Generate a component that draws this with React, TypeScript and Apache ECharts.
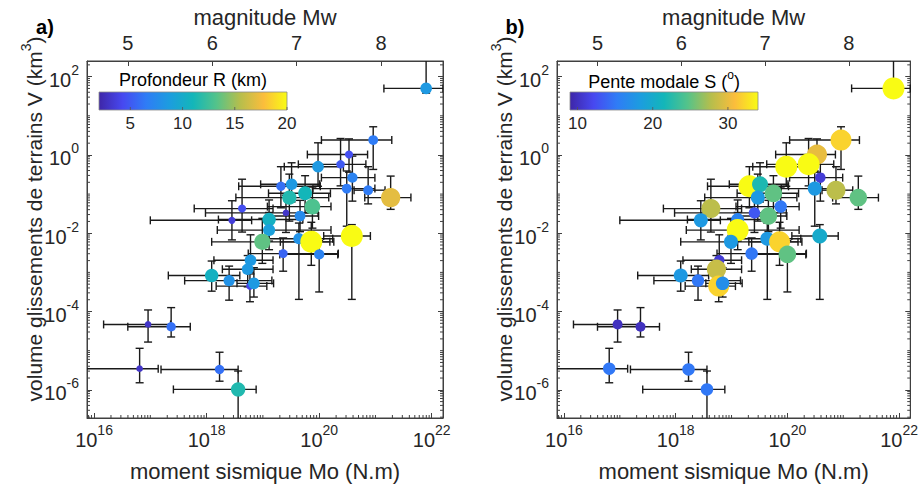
import React, { useEffect, useRef } from 'react';
import * as echarts from 'echarts';

// log10 of seismic moment Mo (N.m)
const logMo = [20.96, 20.53, 20.38, 19.98, 20.59, 20.49, 20.87, 21.27, 19.32, 19.51, 19.75, 19.47, 19.88, 19.41, 19.66, 18.63, 18.45, 19.11, 19.11, 18.99, 19.36, 19.64, 19.86, 20.0, 20.58, 18.78, 18.73, 18.77, 18.84, 18.09, 18.4, 16.96, 17.37, 16.81, 18.23, 18.56, 21.9];
// log10 of landslide volume V (km3)
const logV = [0.38, 0.01, -0.24, -0.3, -0.58, -0.86, -0.9, -1.09, -0.8, -0.75, -0.98, -1.09, -1.32, -1.48, -1.56, -1.37, -1.67, -1.65, -1.92, -2.22, -2.52, -2.14, -2.22, -2.54, -2.07, -2.69, -2.92, -3.35, -3.28, -3.08, -3.21, -4.33, -4.39, -5.46, -5.48, -5.99, 1.7];
// error bars (in decades)
const moErrLow = [0.92, 0.74, 0.75, 0.6, 0.55, 0.6, 0.25, 0.46, 0.75, 0.55, 0.65, 0.95, 0.8, 1.43, 0.55, 0.85, 1.45, 0.9, 0.92, 0.9, 0.62, 0.7, 0.55, 0.7, 0.5, 0.65, 0.45, 0.6, 0.3, 0.77, 0.79, 0.79, 0.77, 1.2, 1.04, 1.15, 0.75];
const moErrHigh = [0.33, 0.33, 0.45, 0.45, 0.4, 0.5, 0.3, 0.36, 0.7, 0.5, 0.45, 0.7, 0.33, 0.57, 0.33, 0.55, 0.35, 0.6, 1.1, 1.2, 0.98, 0.6, 0.4, 0.33, 0.33, 0.4, 0.45, 0.3, 0.35, 0.5, 0.76, 0.4, 0.34, 0.33, 0.33, 0.32, 0.3];
const vErrLow = [0.75, 0.45, 0.55, 0.5, 0.6, 0.96, 0.35, 0.3, 0.55, 0.45, 0.5, 0.6, 0.55, 0.5, 0.4, 0.6, 0.5, 0.55, 0.5, 0.55, 0.45, 1.55, 0.6, 0.96, 1.62, 0.35, 0.45, 0.4, 0.35, 0.4, 0.5, 0.45, 0.26, 0.36, 0.3, 0.9, 0.12];
const vErrHigh = [0.34, 0.4, 0.66, 0.61, 0.55, 0.45, 0.6, 0.55, 0.5, 0.55, 0.45, 0.6, 0.5, 0.45, 0.4, 0.75, 0.5, 0.5, 0.45, 0.6, 0.4, 0.4, 0.5, 0.35, 0.29, 0.65, 0.35, 0.35, 0.4, 0.37, 0.37, 0.37, 0.49, 0.52, 0.44, 0.47, 0.72];
// colour variables
const depthR = [6.5, 4.5, 5, 8.5, 7, 6.5, 6.5, 17, 6, 8.5, 11, 11.5, 13, 3, 7.5, 4.5, 3.5, 10.5, 9, 13.5, 5.5, 8, 20, 7, 20, 8.5, 8.5, 4, 8.5, 10.5, 8, 3, 6, 3, 6, 11.5, 8.5];
const slopeS = [32, 30, 34, 34, 11, 18, 28, 25, 34, 22, 25, 18, 15, 13, 25, 28, 18, 16, 34, 18, 15, 18, 32, 25, 20, 11, 28.5, 32, 17, 18, 15, 10, 10, 15, 15, 15, 34];

const xTicks = [16, 18, 20, 22];
const yTicks = [-6, -4, -2, 0, 2];
const mwTicks = [5, 6, 7, 8];
const rTicks = [5, 10, 15, 20];
const sTicks = [10, 20, 30];

const X_MIN = 15.875, X_MAX = 22.2, Y_MIN = -6.72, Y_MAX = 2.4;
const MW_MIN = (X_MIN - 9.1) / 1.5, MW_MAX = (X_MAX - 9.1) / 1.5;
const R_MIN = 2, R_MAX = 20, S_MIN = 9, S_MAX = 34;

const PARULA = ['#3e26a8', '#4748f0', '#2f7cf6', '#1c9ddf', '#13b6b9', '#54c38a', '#b6be4c', '#fbbd3c', '#f9fb14'];
const FONT = 'Liberation Sans, Arial, sans-serif';
const TXT = '#262626';
const AX = '#404040';

const GRIDS = [
  { left: 87, top: 61, width: 356, height: 357 },
  { left: 557, top: 61, width: 356, height: 357 },
];

const powRich = {
  b: { fontSize: 20, fontFamily: FONT, color: TXT, lineHeight: 27, verticalAlign: 'bottom' },
  s: { fontSize: 14, fontFamily: FONT, color: TXT, lineHeight: 13, verticalAlign: 'top' },
};

const lineStyle = { color: AX, width: 1 };
const tickStyle = { color: AX, width: 1 };

function xAxesFor(g: number) {
  return [
    {
      gridIndex: g, type: 'value', position: 'bottom', min: X_MIN, max: X_MAX,
      axisLine: { show: true, onZero: false, lineStyle }, splitLine: { show: false },
      axisTick: { inside: true, length: 5, lineStyle: tickStyle, customValues: xTicks },
      axisLabel: {
        margin: 5, rich: powRich, customValues: xTicks,
        formatter: (v: number) => `{b|10}{s|${Math.round(v)}}`,
      },
      name: 'moment sismique Mo (N.m)', nameLocation: 'middle', nameGap: 42,
      nameTextStyle: { fontSize: 22, fontFamily: FONT, color: TXT },
    },
    {
      gridIndex: g, type: 'value', position: 'top', min: MW_MIN, max: MW_MAX,
      axisLine: { show: true, onZero: false, lineStyle }, splitLine: { show: false },
      axisTick: { inside: true, length: 5, lineStyle: tickStyle, customValues: mwTicks },
      axisLabel: {
        margin: 8, fontSize: 20, fontFamily: FONT, color: TXT, customValues: mwTicks,
        formatter: (v: number) => String(Math.round(v)),
      },
      name: 'magnitude Mw', nameLocation: 'middle', nameGap: 33,
      nameTextStyle: { fontSize: 22, fontFamily: FONT, color: TXT },
    },
  ];
}

function yAxesFor(g: number) {
  return [
    {
      gridIndex: g, type: 'value', position: 'left', min: Y_MIN, max: Y_MAX,
      axisLine: { show: true, onZero: false, lineStyle }, splitLine: { show: false },
      axisTick: { inside: true, length: 5, lineStyle: tickStyle, customValues: yTicks },
      axisLabel: {
        margin: 8, rich: powRich, customValues: yTicks,
        formatter: (v: number) => `{b|10}{s|${Math.round(v)}}`,
      },
    },
    {
      gridIndex: g, type: 'value', position: 'right', min: Y_MIN, max: Y_MAX,
      axisLine: { show: true, onZero: false, lineStyle }, splitLine: { show: false },
      axisTick: { inside: true, length: 5, lineStyle: tickStyle, customValues: yTicks },
      axisLabel: { show: false, customValues: yTicks },
    },
  ];
}

const errData = logMo.map((m, i) => [m, logV[i], moErrLow[i], moErrHigh[i], vErrLow[i], vErrHigh[i]]);

function errorBarSeries(g: number) {
  return {
    type: 'custom', xAxisIndex: g * 2, yAxisIndex: g * 2, clip: true, silent: true, z: 2,
    encode: { x: 0, y: 1 },
    data: errData,
    renderItem: (_p: any, api: any) => {
      const x = api.value(0), y = api.value(1);
      const pL = api.coord([x - api.value(2), y]);
      const pR = api.coord([x + api.value(3), y]);
      const pB = api.coord([x, y - api.value(4)]);
      const pT = api.coord([x, y + api.value(5)]);
      const c = 4;
      const style = { stroke: '#1a1a1a', lineWidth: 1.4, fill: null };
      const ln = (x1: number, y1: number, x2: number, y2: number) => ({ type: 'line', shape: { x1, y1, x2, y2 }, style });
      return {
        type: 'group',
        children: [
          ln(pL[0], pL[1], pR[0], pR[1]),
          ln(pL[0], pL[1] - c, pL[0], pL[1] + c),
          ln(pR[0], pR[1] - c, pR[0], pR[1] + c),
          ln(pB[0], pB[1], pT[0], pT[1]),
          ln(pB[0] - c, pB[1], pB[0] + c, pB[1]),
          ln(pT[0] - c, pT[1], pT[0] + c, pT[1]),
        ],
      };
    },
  };
}

function minorTickSeries(g: number) {
  return {
    type: 'custom', xAxisIndex: g * 2, yAxisIndex: g * 2, silent: true, z: 1,
    data: [[X_MIN, Y_MIN]],
    renderItem: (_p: any, api: any) => {
      const children: any[] = [];
      const style = { stroke: AX, lineWidth: 1, fill: null };
      const bottom = api.coord([X_MIN, Y_MIN])[1];
      const left = api.coord([X_MIN, Y_MIN])[0];
      const right = api.coord([X_MAX, Y_MIN])[0];
      for (let n = 15; n <= 22; n++) {
        for (let k = 1; k <= 9; k++) {
          if (k === 1 && n % 2 === 0) continue;
          const v = n + Math.log10(k);
          if (v <= X_MIN || v >= X_MAX) continue;
          const px = api.coord([v, Y_MIN])[0];
          children.push({ type: 'line', shape: { x1: px, y1: bottom, x2: px, y2: bottom - 3 }, style });
        }
      }
      for (let n = -7; n <= 2; n++) {
        for (let k = 1; k <= 9; k++) {
          if (k === 1 && n % 2 === 0) continue;
          const v = n + Math.log10(k);
          if (v <= Y_MIN || v >= Y_MAX) continue;
          const py = api.coord([X_MIN, v])[1];
          children.push({ type: 'line', shape: { x1: left, y1: py, x2: left + 3, y2: py }, style });
          children.push({ type: 'line', shape: { x1: right, y1: py, x2: right - 3, y2: py }, style });
        }
      }
      return { type: 'group', children };
    },
  };
}

function scatterSeries(g: number, colorVals: number[], sizeFn: (v: number) => number) {
  return {
    type: 'scatter', xAxisIndex: g * 2, yAxisIndex: g * 2, z: 3,
    data: logMo.map((m, i) => [m, logV[i], colorVals[i]]),
    symbolSize: (v: number[]) => sizeFn(v[2]),
    itemStyle: { opacity: 1 },
  };
}

function colorbar(left: number, top: number, width: number, min: number, max: number, ticks: number[], title: string, rich?: any) {
  const els: any[] = [];
  els.push({
    type: 'rect', shape: { x: left, y: top, width, height: 18 },
    style: {
      fill: new echarts.graphic.LinearGradient(0, 0, 1, 0, PARULA.map((c, i) => ({ offset: i / (PARULA.length - 1), color: c }))),
      stroke: '#8a8a8a', lineWidth: 0.8,
    },
  });
  ticks.forEach((t) => {
    const x = left + ((t - min) / (max - min)) * width;
    els.push({ type: 'line', shape: { x1: x, y1: top + 18, x2: x, y2: top + 15 }, style: { stroke: '#555', lineWidth: 0.8 } });
    els.push({
      type: 'text', x, y: top + 31,
      style: { text: String(t), align: 'center', verticalAlign: 'middle', fontSize: 17, fontFamily: FONT, fill: TXT },
    });
  });
  els.push({
    type: 'text', x: left + width / 2, y: top - 12,
    style: { text: title, rich, align: 'center', verticalAlign: 'middle', fontSize: 18, fontFamily: FONT, fill: '#000' },
  });
  return els;
}

const yLabelRich = {
  n: { fontSize: 21, fontFamily: FONT, fill: TXT, lineHeight: 26, verticalAlign: 'bottom' },
  s: { fontSize: 14, fontFamily: FONT, fill: TXT, lineHeight: 13, verticalAlign: 'top' },
};

function yLabel(x: number, y: number) {
  return {
    type: 'text', x, y, rotation: Math.PI / 2,
    style: {
      text: '{n|volume glissements de terrains V (km}{s|3}{n|)}', rich: yLabelRich,
      align: 'center', verticalAlign: 'middle', fontFamily: FONT, fill: TXT,
    },
  };
}

export default function App() {
  const ref = useRef<HTMLDivElement>(null);
  useEffect(() => {
    const chart = echarts.init(ref.current!, null, { renderer: 'svg' });
    const option: any = {
      animation: false,
      backgroundColor: '#ffffff',
      grid: GRIDS.map((g) => ({ ...g, show: true, borderColor: AX, borderWidth: 1, backgroundColor: 'transparent' })),
      xAxis: [...xAxesFor(0), ...xAxesFor(1)],
      yAxis: [...yAxesFor(0), ...yAxesFor(1)],
      visualMap: [
        { show: false, type: 'continuous', seriesIndex: 2, dimension: 2, min: R_MIN, max: R_MAX, inRange: { color: PARULA } },
        { show: false, type: 'continuous', seriesIndex: 5, dimension: 2, min: S_MIN, max: S_MAX, inRange: { color: PARULA } },
      ],
      series: [
        minorTickSeries(0),
        errorBarSeries(0),
        scatterSeries(0, depthR, (r) => 4 + 0.9 * r),
        minorTickSeries(1),
        errorBarSeries(1),
        scatterSeries(1, slopeS, (s) => 5 + 0.5 * s),
      ],
      graphic: [
        { type: 'text', x: 45, y: 27, style: { text: 'a)', align: 'center', verticalAlign: 'middle', fontSize: 20, fontWeight: 'bold', fontFamily: FONT, fill: '#000' } },
        { type: 'text', x: 515, y: 27, style: { text: 'b)', align: 'center', verticalAlign: 'middle', fontSize: 20, fontWeight: 'bold', fontFamily: FONT, fill: '#000' } },
        yLabel(32, 219),
        yLabel(502, 219),
        ...colorbar(99, 92, 188, R_MIN, R_MAX, rTicks, 'Profondeur R (km)'),
        ...colorbar(570, 92, 188, S_MIN, S_MAX, sTicks, '{n|Pente modale S (}{s|o}{n|)}', {
          n: { fontSize: 18, fontFamily: FONT, fill: '#000', lineHeight: 22, verticalAlign: 'bottom' },
          s: { fontSize: 12, fontFamily: FONT, fill: '#000', lineHeight: 12, verticalAlign: 'top' },
        }),
      ],
    };
    chart.setOption(option);
    return () => chart.dispose();
  }, []);
  return <div ref={ref} style={{ position: 'fixed', left: 0, top: 0, width: 921, height: 488 }} />;
}
